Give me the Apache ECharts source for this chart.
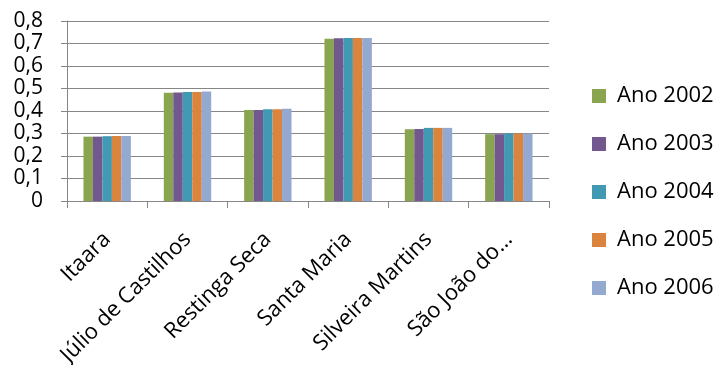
<!DOCTYPE html>
<html><head><meta charset="utf-8">
<script src="https://cdn.jsdelivr.net/npm/echarts@6/dist/echarts.min.js"></script>
<style>html,body{margin:0;padding:0;background:#fff}#c{width:718px;height:365px}</style>
</head><body><div id="c"></div>
<script>
const categories = ["Itaara", "Júlio de Castilhos", "Restinga Seca", "Santa Maria", "Silveira Martins", "São João do…"];
const seriesNames = ["Ano 2002", "Ano 2003", "Ano 2004", "Ano 2005", "Ano 2006"];
const ano2002 = [0.286, 0.481, 0.405, 0.721, 0.319, 0.297];
const ano2003 = [0.286, 0.482, 0.405, 0.723, 0.320, 0.297];
const ano2004 = [0.288, 0.484, 0.408, 0.724, 0.325, 0.300];
const ano2005 = [0.289, 0.485, 0.408, 0.724, 0.325, 0.300];
const ano2006 = [0.289, 0.487, 0.410, 0.724, 0.325, 0.300];
const yTicks = [0, 0.1, 0.2, 0.3, 0.4, 0.5, 0.6, 0.7, 0.8];

const values = [ano2002, ano2003, ano2004, ano2005, ano2006];
const colors = ["#8AA550", "#72588E", "#4299B3", "#DB843D", "#93A9CF"];
const font = "'Open Sans', sans-serif";
const chart = echarts.init(document.getElementById('c'));
chart.setOption({
  animation: false,
  color: colors,
  textStyle: {fontFamily: font},
  grid: {left: 67, top: 21, width: 482, height: 180, containLabel: false, outerBoundsMode: 'none'},
  legend: {
    orient: 'vertical', left: 592, top: 85, itemGap: 26, padding: 0,
    itemWidth: 14, itemHeight: 14, icon: 'rect',
    textStyle: {fontSize: 22, lineHeight: 22, color: '#000', fontFamily: font, padding: [0, 0, 0, 6]},
    data: seriesNames
  },
  xAxis: {
    type: 'category', data: categories,
    axisLine: {lineStyle: {color: '#868686', width: 1}},
    axisTick: {show: true, length: 7, lineStyle: {color: '#868686'}},
    axisLabel: {rotate: 45, fontSize: 22, color: '#000', interval: 0, margin: 35, fontFamily: font}
  },
  yAxis: {
    type: 'value', min: yTicks[0], max: yTicks[yTicks.length - 1], interval: 0.1,
    axisLine: {show: true, lineStyle: {color: '#868686'}},
    axisTick: {show: true, length: 6, lineStyle: {color: '#868686'}},
    splitLine: {lineStyle: {color: '#868686', width: 1}},
    axisLabel: {fontSize: 21, color: '#000', margin: 24, fontFamily: font,
      formatter: v => (Math.round(v * 10) / 10).toString().replace('.', ',')}
  },
  series: seriesNames.map((n, i) => ({
    name: n, type: 'bar', data: values[i],
    barGap: '0%', barCategoryGap: '41%'
  }))
});
</script></body></html>
